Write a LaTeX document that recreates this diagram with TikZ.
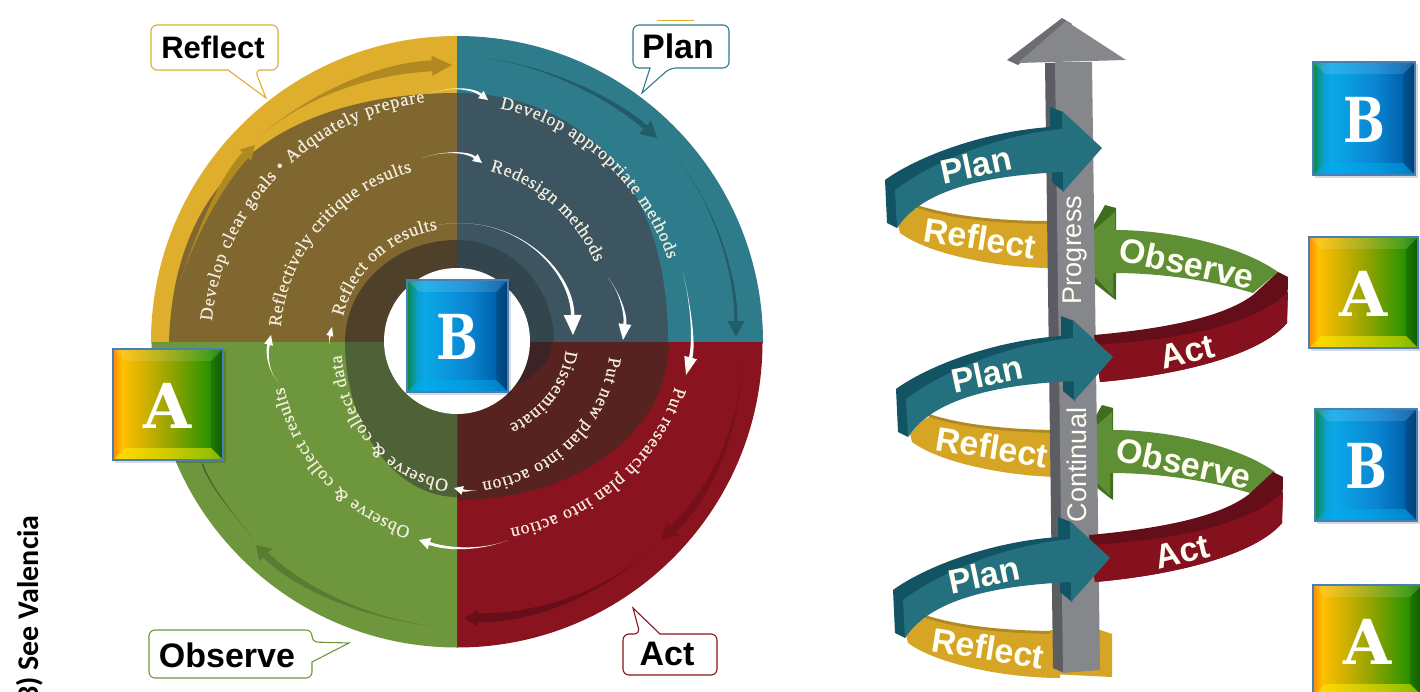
\documentclass[tikz,border=0pt]{standalone}
\usepackage{fontspec}
\usepackage{graphicx}
\setmainfont{Liberation Serif}
\newfontfamily\lsans{Liberation Sans}
\newfontfamily\slab{DejaVu Serif}
\newfontfamily\calib{Carlito}
\newfontfamily\wheelfont[FakeBold=0.5]{Liberation Serif}
\usetikzlibrary{decorations.text}
\definecolor{cYel}{HTML}{DFAE2D}
\definecolor{cTeal}{HTML}{2E7B8C}
\definecolor{cRed}{HTML}{8A1320}
\definecolor{cGrn}{HTML}{6E973D}
\definecolor{cBrown}{HTML}{806730}
\definecolor{cDTeal}{HTML}{3C5561}
\definecolor{cMar}{HTML}{572321}
\definecolor{cIBrown}{HTML}{4E4029}
\definecolor{cITeal}{HTML}{33464E}
\definecolor{cIGrn}{HTML}{4F6136}
\definecolor{cIMar}{HTML}{3D2226}
\definecolor{cCream}{HTML}{F2ECDC}
\definecolor{rTeal}{HTML}{24707F}
\definecolor{rTealD}{HTML}{125463}
\definecolor{rYel}{HTML}{D6A526}
\definecolor{rYelD}{HTML}{B08A20}
\definecolor{rGrn}{HTML}{5F8F35}
\definecolor{rGrnD}{HTML}{3F6E1E}
\definecolor{rRed}{HTML}{85111F}
\definecolor{rRedD}{HTML}{640E19}
\definecolor{sFront}{HTML}{86878B}
\definecolor{sDark}{HTML}{5C5D62}
\definecolor{bevBorder}{HTML}{4A7EBB}
\definecolor{a0}{HTML}{FF8A00}\definecolor{a1}{HTML}{FFC000}\definecolor{a2}{HTML}{DDB400}
\definecolor{a3}{HTML}{8FA300}\definecolor{a4}{HTML}{2E9400}\definecolor{a5}{HTML}{0C6C00}
\definecolor{b0}{HTML}{0E8A3C}\definecolor{b1}{HTML}{0A9FCF}\definecolor{b2}{HTML}{0AA8E8}
\definecolor{b3}{HTML}{0A86D2}\definecolor{b4}{HTML}{0062AC}\definecolor{b5}{HTML}{004A88}
\colorlet{AgradB}{yellow}
\colorlet{BgradB}{cyan}
\pgfdeclarehorizontalshading{Agrad}{100bp}{color(0bp)=(a0); color(25bp)=(a0); color(29bp)=(a1); color(37bp)=(a2); color(52bp)=(a3); color(68bp)=(a4); color(75bp)=(a5); color(100bp)=(a5)}
\pgfdeclarehorizontalshading{Bgrad}{100bp}{color(0bp)=(b0); color(25bp)=(b0); color(30bp)=(b1); color(34bp)=(b2); color(55bp)=(b3); color(69bp)=(b4); color(75bp)=(b5); color(100bp)=(b5)}
\tikzset{
  callout/.style={fill=white,line width=1.1pt,rounded corners=6pt},
  calloutlabel/.style={font=\lsans\bfseries\fontsize{#1}{#1}\selectfont,text=black,inner sep=0pt},
  riblabel/.style={font=\lsans\bfseries\fontsize{#1}{#1}\selectfont,text=white!95!yellow,inner sep=0pt},
  shaftlabel/.style={font=\lsans\fontsize{27}{27}\selectfont,text=white!95!yellow,inner sep=0pt,rotate=90},
  letterlabel/.style={font=\slab\bfseries\fontsize{#1}{#1}\selectfont,text=white,inner sep=0pt},
}
\newcommand\arctext[6]{%
  \path[decorate,decoration={text along path,text align={fit to path},text color=cCream,
     text={|\wheelfont\fontsize{#6}{#6}\selectfont|#5}}]
     plot[domain=#3:#4,samples=60] ({457+#1*cos(\x)},{342-#2*sin(\x)});}
\newcommand\tset[3]{\def\aw{#1}\def\ahw{#2}\def\ahl{#3}}
\def\tarrow#1(#2,#3)(#4,#5)(#6,#7)(#8,#9){%
  \pgfmathsetmacro\tdx{#8-(#6)}\pgfmathsetmacro\tdy{#9-(#7)}%
  \pgfmathsetmacro\tlen{veclen(\tdx,\tdy)}%
  \pgfmathsetmacro\tux{\tdx/\tlen}\pgfmathsetmacro\tuy{\tdy/\tlen}%
  \pgfmathsetmacro\tbx{#8-\ahl*\tux}\pgfmathsetmacro\tby{#9-\ahl*\tuy}%
  \fill[#1] (#2,#3) .. controls (#4,#5) and ({#6-\aw/2*\tuy},{#7+\aw/2*\tux}) ..
    ({\tbx-\aw/2*\tuy},{\tby+\aw/2*\tux}) -- ({\tbx-\ahw/2*\tuy},{\tby+\ahw/2*\tux}) -- (#8,#9) --
    ({\tbx+\ahw/2*\tuy},{\tby-\ahw/2*\tux}) -- ({\tbx+\aw/2*\tuy},{\tby-\aw/2*\tux}) ..
    controls ({#6+\aw/2*\tuy},{#7-\aw/2*\tux}) and (#4,#5) .. cycle;}
\newcommand\bevel[7]{%
  \fill[black,opacity=.15] (#2+2,#3+2) rectangle (#4+3,#5+3);
  \shade[shading=#6] (#2,#3) rectangle (#4,#5);
  \fill[white,opacity=.12] (#2,#3) -- (#4,#3) -- (#4-12,#3+12) -- (#2+12,#3+12) -- cycle;
  \fill[black,opacity=.14] (#4,#3) -- (#4,#5) -- (#4-12,#5-12) -- (#4-12,#3+12) -- cycle;
  \fill[#6B,opacity=.5] (#2,#5) -- (#4,#5) -- (#4-12,#5-12) -- (#2+12,#5-12) -- cycle;
  \draw[bevBorder,line width=1.6pt] (#2,#3) rectangle (#4,#5);
  \node[letterlabel=62] (#1) at ({(#2+#4)/2},{(#3+#5)/2+1}) {#7};}
\newcommand\letB{\scalebox{.8}[1]{B}}
\begin{document}
\begin{tikzpicture}[x=1pt,y=-1pt]
\useasboundingbox (0,0) rectangle (1420,692);
%------------ wheel
\begin{scope}\clip (151,36) rectangle (457,342); \fill[cYel] (457,342) circle[radius=306pt];
  \fill[cBrown] (457,342) -- (457,93) .. controls (330,93) and (175,140) .. (169,342) -- cycle;
  \fill[cIBrown] (457,342) ellipse[x radius=112pt,y radius=102pt];\end{scope}
\begin{scope}\clip (457,36) rectangle (763,342); \fill[cTeal] (457,342) circle[radius=306pt];
  \fill[cDTeal] (457,342) -- (457,93) .. controls (570,93) and (668,170) .. (668,342) -- cycle;
  \fill[cITeal] (457,342) ellipse[x radius=97pt,y radius=102pt];\end{scope}
\begin{scope}\clip (457,342) rectangle (763,648); \fill[cRed] (457,342) circle[radius=305.5pt];
  \fill[cMar] (457,342) -- (669,342) .. controls (669,430) and (580,500) .. (457,500) -- cycle;
  \fill[cIMar] (457,342) ellipse[x radius=95pt,y radius=55pt];\end{scope}
\begin{scope}\clip (151,342) rectangle (457,648); \fill[cGrn] (457,342) circle[radius=305.5pt];
  \fill[cIGrn] (457,342) ellipse[x radius=112pt,y radius=155pt];\end{scope}
\fill[white] (457,341) circle[radius=73pt];
%------------ ring arrows
\tset{8}{16}{14}\tarrow{rYelD}(179,285)(195,235)(222,180)(255,145)
\tset{11}{20}{20}\tarrow{rYelD}(258,138)(310,92)(380,68)(452,65)
\tset{5}{18}{16}\tarrow{cTeal!75!black}(469,57)(540,60)(615,100)(657,138)
\tset{3}{17}{16}\tarrow{cTeal!75!black}(673,153)(712,200)(736,270)(736,337)
\tset{8}{17}{16}\tarrow{cRed!85!black}(742,357)(742,420)(715,490)(661,540)
\tset{9}{17}{14}\tarrow{cRed!75!black}(651,547)(610,590)(540,618)(464,618)
\tset{7}{18}{14}\tarrow{cGrn!82!black}(451,627)(380,625)(300,590)(256,545)
\tset{1.5}{2}{2}\tarrow{cGrn!65!black}(254,540)(235,515)(212,490)(202,463)
%------------ curved labels
\arctext{246}{242}{175}{97.5}{Develop clear goals • Adquately prepare}{18}
\arctext{177}{176}{175}{104.7}{Reflectively critique results}{18}
\arctext{117}{114}{167}{99.5}{Reflect on results}{18}
\arctext{225}{238}{79}{20.3}{Develop appropriate methods}{18}
\arctext{155}{175}{77.7}{27}{Redesign methods}{18}
\arctext{224}{192}{-13.5}{-76.3}{Put research plan into action}{18}
\arctext{153}{142}{-6}{-80.6}{Put new plan into action}{18}
\arctext{109}{94}{-5}{-61.5}{Disseminate}{18}
\arctext{116}{138}{266}{185.4}{Observe {\&} collect data}{18}
\arctext{178}{192}{255}{193.5}{Observe {\&} collect results}{18}
%------------ white arrows
\tset{2.5}{9}{9}\tarrow{white}(428,94)(450,86)(472,88)(488,100)
\tset{2.5}{9}{9}\tarrow{white}(422,158)(445,150)(468,152)(482,163)
\tset{3.5}{18}{20}\tarrow{white}(438,225)(515,212)(572,270)(573,335)
\tset{3}{13}{16}\tarrow{white}(608,278)(620,292)(626,315)(623,340)
\tset{3.5}{13}{18}\tarrow{white}(683,273)(692,310)(694,345)(686,375)
\tset{3}{12}{11}\tarrow{white}(508,540)(490,548)(455,552)(419,540)
\tset{2.5}{9}{9}\tarrow{white}(477,490)(470,491)(465,491)(454,488)
\tset{2.5}{9}{10}\tarrow{white}(278,382)(269,372)(266,355)(271,335)
\tset{2}{7}{9}\tarrow{white}(330,345)(329,340)(330,335)(332,327)
%------------ callouts
\draw[callout,draw=cYel] (151,25) -- (278,25) -- (278,70) -- (255,70) [rounded corners=0pt] -- (266,98) -- (228,70) [rounded corners=6pt] -- (151,70) -- cycle;
\node[calloutlabel=31] (lReflect) at (213,47) {Reflect};
\draw[callout,draw=cTeal] (633,25) -- (729,25) -- (729,68) -- (670,68) [rounded corners=0pt] -- (642,93) -- (650,68) [rounded corners=6pt] -- (633,68) -- cycle;
\draw[cYel,line width=1pt] (657,21) -- (694,21);
\node[calloutlabel=34] (lPlan) at (678,46) {Plan};
\draw[callout,draw=cGrn] (149,630) -- (312,630) -- (312,642) [rounded corners=0pt] -- (349,643) -- (312,662) [rounded corners=6pt] -- (312,678) -- (149,678) -- cycle;
\node[calloutlabel=34] (lObserve) at (227,655) {Observe};
\draw[callout,draw=cRed] (623,634) -- (640,634) [rounded corners=0pt] -- (633,608) -- (660,634) [rounded corners=6pt] -- (717,634) -- (717,675) -- (623,675) -- cycle;
\node[calloutlabel=34] (lAct) at (667,654) {Act};
%------------ wheel squares
\bevel{centerB}{407}{280}{508}{392}{Bgrad}{\letB}
\bevel{leftA}{113}{349}{223}{460}{Agrad}{A}
%------------ side note
\node[font=\calib\bfseries\fontsize{30}{30}\selectfont,rotate=90,anchor=base east,inner sep=0pt,text=black] (note) at (38,515) {3) See Valencia};
%------------ spiral: back ribbons
\newcommand\reflectrib[3]{\begin{scope}[shift={(#1,#2)}]
  \fill[rYelD] (917,205) .. controls (950,216) and (1000,221) .. (1050,221) -- (1050,230) -- (917,215) -- cycle;
  \fill[rYel] (898,225) .. controls (905,216) and (910,211) .. (917,208) .. controls (950,219) and (1000,224) .. (1052,224) -- (1052,268) .. controls (1000,268) and (930,255) .. (900,233) -- cycle;
  \node[riblabel=34,rotate=-9] (#3) at (980,238) {Reflect};
\end{scope}}
\reflectrib{0}{0}{rf1}
\reflectrib{12}{209}{rf2}
\reflectrib{8}{410}{rf3}
\fill[rYel] (1050,630) -- (1100,630) -- (1112,634) -- (1112,677) -- (1050,674) -- cycle;
\newcommand\observerib[3]{\begin{scope}[shift={(#1,#2)}]
  \fill[rGrnD] (1092,228) -- (1105,205) -- (1116,208) -- (1116,300) -- (1113,298) -- (1094,283) -- cycle;
  \fill[rGrn] (1115,230) .. controls (1170,230) and (1240,245) .. (1278,272) -- (1253,293) .. controls (1210,280) and (1160,273) .. (1113,273) -- (1113,296) -- (1094,276) -- (1092,232) -- (1115,212) -- cycle;
  \node[riblabel=34,rotate=-12] (#3) at (1187,263) {Observe};
\end{scope}}
\observerib{0}{0}{ob1}
\observerib{-3}{200}{ob2}
%------------ shaft
\fill[sDark] (1045,63) -- (1056,63) -- (1064,673) -- (1053,668) -- cycle;
\fill[sFront] (1055,62) -- (1092,62) -- (1100,670) -- (1063,673) -- cycle;
\fill[sDark!90!white] (1062,18) -- (1007,60) -- (1018,65) -- (1072,24) -- cycle;
\fill[sFront] (1066,21) -- (1126,60) -- (1018,63) -- cycle;
\node[shaftlabel] (txProgress) at (1075,250) {Progress};
\node[shaftlabel] (txContinual) at (1077,465) {Continual};
%------------ front ribbons
\newcommand\actrib[3]{\begin{scope}[shift={(#1,#2)}]
  \fill[rRedD] (1278,272) -- (1288,277) -- (1287,323) .. controls (1260,355) and (1180,375) .. (1100,382) -- (1094,335) .. controls (1150,330) and (1220,320) .. (1253,295) -- cycle;
  \fill[rRed] (1288,292) .. controls (1255,325) and (1180,340) .. (1094,345) -- (1100,382) .. controls (1180,375) and (1260,355) .. (1287,323) -- cycle;
  \node[riblabel=34,rotate=14] (#3) at (1187,352) {Act};
\end{scope}}
\actrib{0}{0}{ac1}
\actrib{-5}{200}{ac2}
\newcommand\planrib[3]{\begin{scope}[shift={(#1,#2)}]
  \fill[rTealD] (885,180) .. controls (915,158) and (980,132) .. (1050,127) -- (1050,145) -- (915,200) -- (897,228) -- (887,223) -- cycle;
  \fill[rTealD] (1050,107) -- (1063,112) -- (1063,135) -- (1050,135) -- cycle;
  \fill[rTealD] (1052,170) -- (1064,170) -- (1064,192) -- (1052,182) -- cycle;
  \fill[rTeal] (895,190) .. controls (935,160) and (1000,135) .. (1062,129) -- (1062,111) -- (1102,148) -- (1063,192) -- (1063,172) .. controls (1000,175) and (925,185) .. (897,228) -- cycle;
  \node[riblabel=34,rotate=12] (#3) at (976,165) {Plan};
\end{scope}}
\planrib{0}{0}{pl1}
\planrib{11}{209}{pl2}
\planrib{8}{410}{pl3}
%------------ right column
\bevel{rB1}{1313}{62}{1415}{175}{Bgrad}{\letB}
\bevel{rA1}{1309}{237}{1418}{348}{Agrad}{A}
\bevel{rB2}{1315}{409}{1417}{521}{Bgrad}{\letB}
\bevel{rA2}{1313}{585}{1422}{696}{Agrad}{A}
\end{tikzpicture}
\end{document}
